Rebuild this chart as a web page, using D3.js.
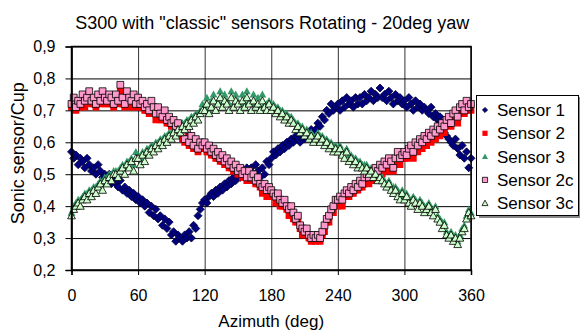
<!DOCTYPE html>
<html><head><meta charset="utf-8">
<script src="https://cdn.jsdelivr.net/npm/d3@7"></script>
<style>body{margin:0;background:#fff}svg{display:block;font-family:"Liberation Sans",Arial,sans-serif}</style>
</head><body><svg id="c" width="580" height="333"></svg>
<script>
// ---------- DATA ----------
const title = 'S300 with "classic" sensors Rotating - 20deg yaw';
const xLabel = "Azimuth (deg)";
const yLabel = "Sonic sensor/Cup";
const xTicks = [0, 60, 120, 180, 240, 300, 360];
const yTicks = [0.2, 0.3, 0.4, 0.5, 0.6, 0.7, 0.8, 0.9];
const seriesNames = ["Sensor 1", "Sensor 2", "Sensor 3", "Sensor 2c", "Sensor 3c"];
const azimuth = d3.range(0, 361, 2);

const sensor1 = [
0.57,0.55,0.56,0.53,0.55,0.54,0.52,0.55,0.53,0.51,
0.52,0.50,0.53,0.51,0.49,0.50,0.48,0.50,0.47,0.49,
0.47,0.46,0.48,0.45,0.46,0.44,0.45,0.43,0.44,0.42,
0.43,0.41,0.42,0.40,0.41,0.38,0.40,0.37,0.39,0.36,
0.37,0.34,0.36,0.33,0.35,0.31,0.32,0.29,0.31,0.30,
0.29,0.31,0.30,0.32,0.30,0.34,0.33,0.37,0.39,0.41,
0.42,0.41,0.43,0.44,0.43,0.45,0.44,0.46,0.45,0.47,
0.46,0.48,0.47,0.49,0.48,0.50,0.49,0.51,0.50,0.52,
0.51,0.52,0.50,0.53,0.51,0.49,0.52,0.50,0.54,0.53,
0.55,0.57,0.56,0.58,0.57,0.59,0.58,0.60,0.59,0.61,
0.60,0.62,0.61,0.60,0.62,0.61,0.63,0.62,0.64,0.63,
0.64,0.66,0.65,0.68,0.67,0.70,0.69,0.72,0.70,0.71,
0.72,0.70,0.73,0.71,0.74,0.72,0.73,0.71,0.74,0.72,
0.74,0.72,0.75,0.73,0.74,0.76,0.73,0.75,0.74,0.77,
0.74,0.75,0.73,0.76,0.74,0.72,0.75,0.73,0.74,0.72,
0.73,0.71,0.74,0.72,0.70,0.73,0.71,0.72,0.70,0.71,
0.70,0.69,0.71,0.68,0.69,0.67,0.68,0.66,0.63,0.62,
0.61,0.60,0.59,0.61,0.58,0.56,0.59,0.55,0.57,0.52,
0.55];

const sensor2 = [
0.71,0.72,0.70,0.72,0.71,0.73,0.71,0.73,0.74,0.72,
0.72,0.71,0.73,0.72,0.74,0.72,0.72,0.73,0.72,0.71,
0.73,0.72,0.76,0.72,0.71,0.74,0.73,0.71,0.73,0.71,
0.72,0.71,0.71,0.70,0.70,0.69,0.71,0.70,0.67,0.70,
0.67,0.67,0.68,0.66,0.66,0.65,0.65,0.64,0.64,0.63,
0.61,0.60,0.62,0.59,0.60,0.58,0.59,0.57,0.58,0.58,
0.58,0.57,0.57,0.56,0.56,0.55,0.55,0.54,0.54,0.53,
0.53,0.52,0.52,0.51,0.51,0.50,0.50,0.49,0.49,0.48,
0.49,0.48,0.48,0.47,0.47,0.46,0.44,0.46,0.43,0.45,
0.43,0.43,0.41,0.43,0.40,0.40,0.40,0.39,0.37,0.39,
0.36,0.35,0.35,0.33,0.31,0.31,0.31,0.30,0.29,0.30,
0.29,0.30,0.29,0.31,0.32,0.35,0.35,0.38,0.38,0.41,
0.40,0.42,0.40,0.43,0.43,0.43,0.44,0.44,0.45,0.45,
0.46,0.46,0.47,0.49,0.47,0.50,0.48,0.51,0.49,0.52,
0.50,0.53,0.51,0.54,0.52,0.51,0.53,0.56,0.53,0.55,
0.55,0.55,0.56,0.58,0.55,0.59,0.57,0.60,0.58,0.61,
0.59,0.62,0.60,0.63,0.61,0.64,0.62,0.65,0.63,0.66,
0.66,0.65,0.67,0.69,0.66,0.70,0.70,0.69,0.71,0.70,
0.70];

const sensor3 = [
0.38,0.40,0.41,0.42,0.42,0.43,0.44,0.44,0.45,0.45,
0.46,0.46,0.47,0.48,0.47,0.49,0.49,0.50,0.50,0.51,
0.51,0.51,0.52,0.53,0.52,0.54,0.54,0.55,0.53,0.57,
0.56,0.55,0.57,0.56,0.58,0.58,0.59,0.59,0.60,0.60,
0.61,0.61,0.62,0.62,0.63,0.63,0.64,0.64,0.65,0.65,
0.66,0.66,0.67,0.67,0.68,0.68,0.69,0.69,0.70,0.72,
0.71,0.74,0.70,0.73,0.75,0.72,0.73,0.76,0.72,0.75,
0.73,0.72,0.76,0.72,0.75,0.73,0.72,0.75,0.72,0.76,
0.73,0.72,0.75,0.72,0.74,0.71,0.75,0.72,0.72,0.73,
0.72,0.72,0.71,0.71,0.70,0.70,0.69,0.69,0.68,0.68,
0.67,0.66,0.66,0.65,0.65,0.63,0.64,0.62,0.63,0.62,
0.62,0.63,0.62,0.62,0.61,0.61,0.60,0.60,0.59,0.59,
0.58,0.59,0.57,0.57,0.58,0.56,0.56,0.55,0.55,0.54,
0.54,0.53,0.53,0.53,0.51,0.52,0.51,0.51,0.49,0.50,
0.49,0.48,0.47,0.48,0.46,0.46,0.46,0.45,0.43,0.45,
0.43,0.44,0.42,0.42,0.43,0.42,0.41,0.42,0.41,0.40,
0.40,0.41,0.39,0.39,0.40,0.37,0.36,0.35,0.35,0.32,
0.31,0.32,0.30,0.31,0.29,0.31,0.33,0.34,0.37,0.39,
0.38];

const sensor2c = [
0.72,0.74,0.71,0.73,0.72,0.75,0.73,0.74,0.76,0.73,
0.74,0.72,0.75,0.73,0.76,0.74,0.73,0.75,0.74,0.72,
0.75,0.73,0.78,0.74,0.72,0.76,0.74,0.73,0.75,0.72,
0.74,0.72,0.73,0.71,0.72,0.70,0.73,0.71,0.69,0.71,
0.69,0.68,0.70,0.67,0.68,0.66,0.67,0.65,0.66,0.64,
0.63,0.61,0.64,0.60,0.62,0.59,0.61,0.58,0.60,0.59,
0.60,0.58,0.59,0.57,0.58,0.56,0.57,0.55,0.56,0.54,
0.55,0.53,0.54,0.52,0.53,0.51,0.52,0.50,0.51,0.49,
0.51,0.49,0.50,0.48,0.49,0.47,0.46,0.47,0.45,0.46,
0.45,0.44,0.43,0.44,0.42,0.41,0.42,0.40,0.39,0.40,
0.38,0.36,0.37,0.34,0.33,0.32,0.33,0.31,0.30,0.31,
0.30,0.31,0.30,0.32,0.34,0.36,0.37,0.39,0.40,0.42,
0.42,0.43,0.42,0.44,0.45,0.44,0.46,0.45,0.47,0.46,
0.48,0.47,0.49,0.50,0.49,0.51,0.50,0.52,0.51,0.53,
0.52,0.54,0.53,0.55,0.54,0.52,0.55,0.57,0.55,0.56,
0.57,0.56,0.58,0.59,0.57,0.60,0.59,0.61,0.60,0.62,
0.61,0.63,0.62,0.64,0.63,0.65,0.64,0.66,0.65,0.67,
0.68,0.66,0.69,0.70,0.68,0.71,0.72,0.70,0.73,0.71,
0.72];

const sensor3c = [
0.37,0.39,0.40,0.41,0.40,0.42,0.43,0.42,0.44,0.43,
0.45,0.44,0.46,0.47,0.45,0.48,0.47,0.49,0.48,0.50,
0.50,0.49,0.51,0.52,0.50,0.53,0.52,0.54,0.51,0.55,
0.55,0.53,0.56,0.54,0.57,0.56,0.58,0.57,0.59,0.58,
0.60,0.59,0.61,0.60,0.62,0.61,0.63,0.62,0.64,0.63,
0.65,0.64,0.66,0.65,0.67,0.66,0.68,0.67,0.69,0.70,
0.70,0.72,0.69,0.71,0.73,0.70,0.72,0.74,0.71,0.73,
0.72,0.70,0.74,0.71,0.73,0.72,0.70,0.73,0.71,0.74,
0.72,0.70,0.73,0.71,0.72,0.70,0.73,0.71,0.70,0.72,
0.70,0.71,0.69,0.70,0.68,0.69,0.67,0.68,0.66,0.67,
0.66,0.64,0.65,0.63,0.64,0.62,0.63,0.61,0.62,0.60,
0.61,0.62,0.60,0.61,0.59,0.60,0.58,0.59,0.57,0.58,
0.57,0.58,0.56,0.55,0.57,0.54,0.55,0.53,0.54,0.52,
0.53,0.52,0.51,0.52,0.50,0.51,0.49,0.50,0.48,0.49,
0.48,0.47,0.46,0.47,0.45,0.44,0.45,0.43,0.42,0.44,
0.42,0.43,0.41,0.40,0.42,0.41,0.39,0.41,0.40,0.38,
0.39,0.40,0.38,0.37,0.39,0.36,0.35,0.33,0.34,0.31,
0.30,0.31,0.29,0.30,0.28,0.30,0.32,0.33,0.36,0.38,
0.37];

// ---------- STYLE ----------
const series = [
  {name: seriesNames[0], values: sensor1, shape: "diamond", fill: "#000080", stroke: "#000033"},
  {name: seriesNames[1], values: sensor2, shape: "square", fill: "#ff0000", stroke: "none"},
  {name: seriesNames[2], values: sensor3, shape: "triangle", fill: "#339966", stroke: "none"},
  {name: seriesNames[3], values: sensor2c, shape: "square", fill: "#ff99cc", stroke: "#000000"},
  {name: seriesNames[4], values: sensor3c, shape: "triangle", fill: "#ccffcc", stroke: "#000000"}
];

function shapePath(shape, r) {
  if (shape === "diamond") return `M0,${-r}L${r},0L0,${r}L${-r},0Z`;
  if (shape === "square") return `M${-r},${-r}H${r}V${r}H${-r}Z`;
  return `M0,${-r}L${r},${r*0.8}L${-r},${r*0.8}Z`;
}
const markR = {diamond: 4, square: 3.4, triangle: 3.9};

const svg = d3.select("#c");
const L = 71.5, R = 471, T = 46.5, B = 270;
const x = d3.scaleLinear().domain([0, 360]).range([L, R]);
const y = d3.scaleLinear().domain([0.2, 0.9]).range([B, T]);
const fmt = v => d3.format(".1f")(v).replace(".", ",");

// gridlines
svg.append("g").attr("transform", `translate(0,${B})`)
  .call(d3.axisBottom(x).tickValues(xTicks).tickSize(-(B - T)).tickFormat(""))
  .call(g => g.select(".domain").remove())
  .call(g => g.selectAll("line").attr("stroke", "#333").attr("stroke-width", 1));
svg.append("g").attr("transform", `translate(${L},0)`)
  .call(d3.axisLeft(y).tickValues(yTicks).tickSize(-(R - L)).tickFormat(""))
  .call(g => g.select(".domain").remove())
  .call(g => g.selectAll("line").attr("stroke", "#000").attr("stroke-width", 1));

// data
svg.append("clipPath").attr("id", "pc").append("rect")
  .attr("x", L - 6).attr("y", T - 6).attr("width", R - L + 12).attr("height", B - T + 12);
series.forEach(s => {
  svg.append("g").attr("clip-path", "url(#pc)")
    .selectAll("path").data(s.values).join("path")
    .attr("transform", (v, i) => `translate(${x(azimuth[i])},${y(v)})`)
    .attr("d", shapePath(s.shape, markR[s.shape]))
    .attr("fill", s.fill)
    .attr("stroke", s.stroke)
    .attr("stroke-width", s.stroke === "none" ? 0 : 0.8);
});

// frame
svg.append("rect").attr("x", L).attr("y", T).attr("width", R - L).attr("height", B - T)
  .attr("fill", "none").attr("stroke", "#000").attr("stroke-width", 1.5);

// axes
const ax = svg.append("g").attr("transform", `translate(0,${B})`)
  .call(d3.axisBottom(x).tickValues(xTicks).tickSize(5).tickPadding(15).tickFormat(d3.format("d")));
const ay = svg.append("g").attr("transform", `translate(${L},0)`)
  .call(d3.axisLeft(y).tickValues(yTicks).tickSize(6).tickPadding(10).tickFormat(fmt));
[ax, ay].forEach(g => {
  g.select(".domain").attr("stroke", "#000").attr("stroke-width", 1.5);
  g.selectAll("line").attr("stroke", "#000");
  g.selectAll("text").attr("font-size", 16).attr("fill", "#000")
    .attr("font-family", '"Liberation Sans",Arial,sans-serif');
});

// titles
svg.append("text").attr("x", (L + R) / 2 + 1).attr("y", 29).attr("text-anchor", "middle")
  .attr("font-size", 18).text(title);
svg.append("text").attr("x", (L + R) / 2).attr("y", 327).attr("text-anchor", "middle")
  .attr("font-size", 17).text(xLabel);
svg.append("text").attr("transform", `translate(24,${(T + B) / 2 - 5}) rotate(-90)`)
  .attr("text-anchor", "middle").attr("font-size", 18).text(yLabel);

// legend
const lg = svg.append("g");
lg.append("rect").attr("x", 479).attr("y", 97).attr("width", 101).attr("height", 121).attr("fill", "#888");
lg.append("rect").attr("x", 476.5).attr("y", 95.5).attr("width", 102).attr("height", 120)
  .attr("fill", "#fff").attr("stroke", "#000").attr("stroke-width", 1);
series.forEach((s, i) => {
  const cy = 110 + i * 23.3;
  lg.append("path").attr("transform", `translate(485,${cy})`)
    .attr("d", shapePath(s.shape, s.shape === "triangle" ? 3 : 2.6))
    .attr("fill", s.fill).attr("stroke", s.stroke).attr("stroke-width", s.stroke === "none" ? 0 : 0.8);
  lg.append("text").attr("x", 497).attr("y", cy + 6).attr("font-size", 17).text(s.name);
});
</script></body></html>
